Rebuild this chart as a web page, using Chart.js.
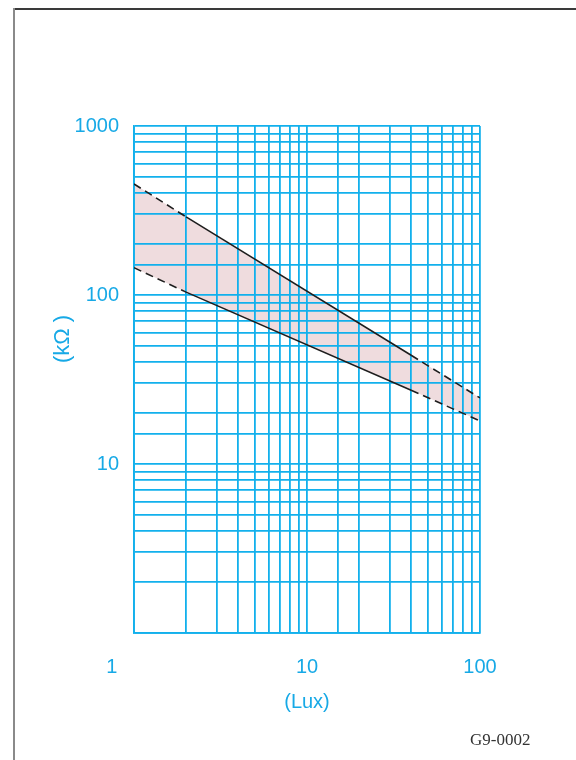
<!DOCTYPE html>
<html>
<head>
<meta charset="utf-8">
<script src="https://cdn.jsdelivr.net/npm/chart.js@4"></script>
<style>
  html, body { margin: 0; padding: 0; background: #ffffff; }
  body { width: 576px; height: 760px; position: relative; overflow: hidden; }
  #frameTop { position: absolute; left: 13px; top: 8px; width: 563px; height: 2px; background: #3a3a3a; }
  #frameLeft { position: absolute; left: 13px; top: 8px; width: 2px; height: 752px; background: #8a8a8a; }
  #code { position: absolute; left: 470px; top: 730px; font-family: "Liberation Serif", "DejaVu Serif", serif; font-size: 17px; color: #333; }
  canvas { position: absolute; left: 0; top: 0; }
</style>
</head>
<body>
<div id="frameTop"></div>
<div id="frameLeft"></div>
<canvas id="c" width="576" height="760"></canvas>
<div id="code">G9-0002</div>
<script>
// ---- data ----
const luxUpper = [1, 2, 40, 100];
const kohmUpper = [454, 290, 44, 24.6];
const luxLower = [1, 2, 40, 100];
const kohmLower = [145, 104, 27.3, 18];
const xTickLabels = [1, 10, 100];
const yTickLabels = [10, 100, 1000];
const xTitle = '(Lux)';
const yTitle = '(k\u03A9 )';

const CYAN = '#17a9e6';
const GRID = '#12b0ec';
const FONT = '"Liberation Sans", Arial, sans-serif';

function pts(xs, ys) { return xs.map((x, i) => ({ x: x, y: ys[i] })); }
function dashEnds(n) {
  return ctx => (ctx.p0DataIndex === 0 || ctx.p1DataIndex === n - 1) ? [8, 5] : undefined;
}
// the first x label sits left of the axis start in the reference
function xLabel(v) {
  if (!xTickLabels.includes(v)) return '';
  return v === xTickLabels[0] ? String(v) + '        ' : String(v);
}

const yTitlePlugin = {
  id: 'yTitle',
  afterDraw(chart) {
    const { ctx, chartArea } = chart;
    ctx.save();
    ctx.translate(chartArea.left - 71, chartArea.top + (chartArea.bottom - chartArea.top) * 0.42);
    ctx.rotate(-Math.PI / 2);
    ctx.fillStyle = CYAN;
    ctx.font = '22px ' + FONT;
    ctx.textAlign = 'center';
    ctx.textBaseline = 'middle';
    ctx.fillText(yTitle, 0, 0);
    ctx.restore();
  }
};

new Chart(document.getElementById('c'), {
  type: 'line',
  data: {
    datasets: [
      {
        label: 'upper',
        data: pts(luxUpper, kohmUpper),
        borderColor: '#1e1e1e',
        borderWidth: 1.6,
        pointRadius: 0,
        fill: '+1',
        backgroundColor: '#efdcde',
        segment: { borderDash: dashEnds(luxUpper.length) }
      },
      {
        label: 'lower',
        data: pts(luxLower, kohmLower),
        borderColor: '#1e1e1e',
        borderWidth: 1.6,
        pointRadius: 0,
        fill: false,
        segment: { borderDash: dashEnds(luxLower.length) }
      }
    ]
  },
  options: {
    responsive: false,
    animation: false,
    devicePixelRatio: 1,
    layout: { padding: { left: 0, top: 126, right: 96, bottom: 0 } },
    plugins: {
      legend: { display: false },
      tooltip: { enabled: false },
      filler: { drawTime: 'beforeDraw' }
    },
    scales: {
      x: {
        type: 'logarithmic',
        min: 1,
        max: 100,
        afterFit(scale) { scale.height = 127; },
        grid: { color: GRID, lineWidth: 1.8, drawTicks: false },
        border: { color: GRID, width: 1.8 },
        ticks: {
          autoSkip: false,
          maxRotation: 0,
          padding: 22,
          color: CYAN,
          font: { family: FONT, size: 20 },
          callback: xLabel
        },
        title: {
          display: true,
          text: xTitle,
          color: CYAN,
          font: { family: FONT, size: 20 },
          padding: { top: 0, bottom: 46 }
        }
      },
      y: {
        type: 'logarithmic',
        min: 1,
        max: 1000,
        afterFit(scale) { scale.width = 134; },
        grid: { color: GRID, lineWidth: 1.8, drawTicks: false },
        border: { color: GRID, width: 1.8 },
        ticks: {
          autoSkip: false,
          padding: 15,
          color: CYAN,
          font: { family: FONT, size: 20 },
          callback: v => yTickLabels.includes(v) ? String(v) : ''
        }
      }
    }
  },
  plugins: [yTitlePlugin]
});
</script>
</body>
</html>
